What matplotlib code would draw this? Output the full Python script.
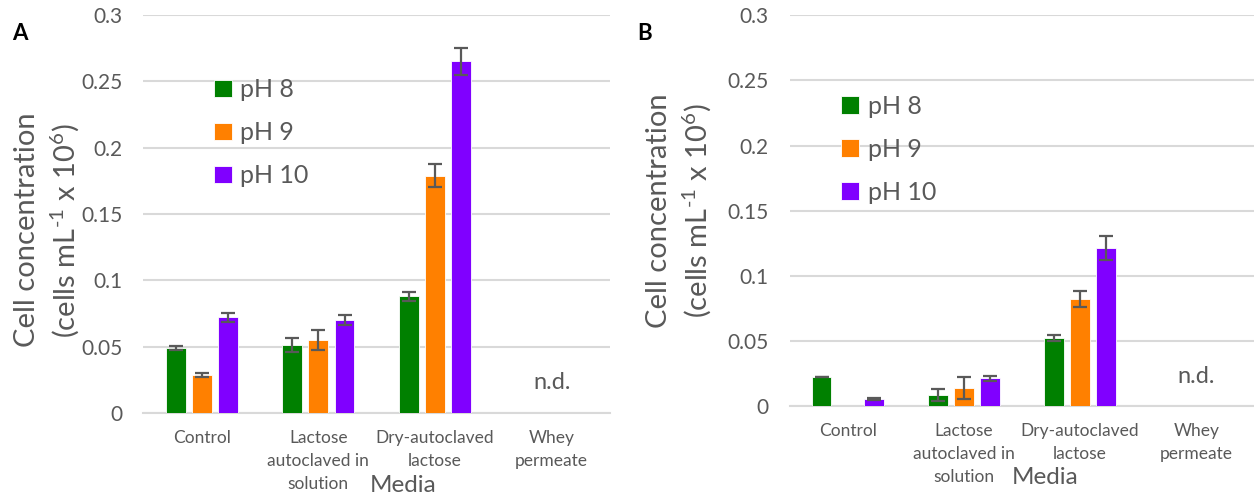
import numpy as np
import matplotlib
matplotlib.use("Agg")
import matplotlib.pyplot as plt

plt.rcParams['font.family'] = ['Lato', 'DejaVu Sans']
plt.rcParams['mathtext.fontset'] = 'custom'
plt.rcParams['mathtext.rm'] = 'Lato'
plt.rcParams['mathtext.it'] = 'Lato:italic'

media = ['Control', 'Lactose\nautoclaved in\nsolution', 'Dry-autoclaved\nlactose', 'Whey\npermeate']
series = ['pH 8', 'pH 9', 'pH 10']
colors = ['#008000', '#FF8000', '#8000FF']

# panel A
a_ph8 = [0.049, 0.051, 0.088, 0.0]
a_ph9 = [0.029, 0.055, 0.179, 0.0]
a_ph10 = [0.072, 0.070, 0.265, 0.0]
a_err8 = [0.0018, 0.0053, 0.0035, 0.0]
a_err9 = [0.0015, 0.0073, 0.0088, 0.0]
a_err10 = [0.0035, 0.0040, 0.0100, 0.0]

# panel B
b_ph8 = [0.0226, 0.0086, 0.0525, 0.0]
b_ph9 = [0.0, 0.0142, 0.0824, 0.0]
b_ph10 = [0.0058, 0.0216, 0.1215, 0.0]
b_err8 = [0.0003, 0.0045, 0.0020, 0.0]
b_err9 = [0.0, 0.0083, 0.0060, 0.0]
b_err10 = [0.0008, 0.0018, 0.0090, 0.0]

txt = '#595959'
grid = '#D9D9D9'
ylab2 = r'(cells mL$^{\text{-1}}$ x 10$^{6}$)'

fig = plt.figure(figsize=(12.54, 4.97), dpi=100)
axA = fig.add_axes([0.1144, 0.169, 0.372, 0.8008])
axB = fig.add_axes([0.6296, 0.1821, 0.3708, 0.7877])


def draw(ax, vals, errs, leg_xy):
    x = np.arange(len(media))
    w = 0.17
    step = 0.224
    handles = []
    for i, (v, e, c) in enumerate(zip(vals, errs, colors)):
        xs = x + (i - 1) * step
        b = ax.bar(xs, v, w, color=c, edgecolor='white', linewidth=0.6, zorder=3)
        handles.append(b)
        v = np.array(v)
        e = np.array(e)
        m = e > 0
        ax.errorbar(xs[m], v[m], yerr=e[m], fmt='none', ecolor='#595959',
                    elinewidth=1.6, capsize=5, capthick=1.6, zorder=4)
    ax.set_xlim(-0.5, len(media) - 0.5)
    ax.set_ylim(0, 0.3)
    ax.set_yticks([0, 0.05, 0.1, 0.15, 0.2, 0.25, 0.3])
    ax.set_yticklabels(['0', '0.05', '0.1', '0.15', '0.2', '0.25', '0.3'])
    ax.yaxis.grid(True, color=grid, linewidth=1.5, zorder=0)
    ax.set_axisbelow(True)
    for s in ['top', 'right', 'left']:
        ax.spines[s].set_visible(False)
    ax.spines['bottom'].set_color(grid)
    ax.spines['bottom'].set_linewidth(1.5)
    ax.tick_params(axis='y', length=0, pad=15, labelsize=15, labelcolor=txt)
    ax.tick_params(axis='x', length=0, pad=12, labelsize=12.5, labelcolor=txt)
    ax.set_xticks(x)
    ax.set_xticklabels(media, linespacing=1.55)
    ax.text(3, 0.023, 'n.d.', ha='center', va='center', fontsize=17, color=txt)
    ax.legend(handles, series, loc='upper left', bbox_to_anchor=leg_xy, frameon=False,
              fontsize=18, labelcolor=txt, handlelength=0.7, handleheight=0.7,
              handletextpad=0.35, labelspacing=0.8, borderaxespad=0)


draw(axA, [a_ph8, a_ph9, a_ph10], [a_err8, a_err9, a_err10], (0.13, 0.866))
draw(axB, [b_ph8, b_ph9, b_ph10], [b_err8, b_err9, b_err10], (0.09, 0.822))

# axis titles
fig.text(27 / 1254, 1 - 230 / 497, 'Cell concentration', rotation=90, ha='center', va='center',
         fontsize=21, color=txt)
fig.text(65 / 1254, 1 - 231 / 497, ylab2, rotation=90, ha='center', va='center',
         fontsize=21, color=txt)
fig.text(659 / 1254, 1 - 211 / 497, 'Cell concentration', rotation=90, ha='center', va='center',
         fontsize=21, color=txt)
fig.text(697 / 1254, 1 - 211 / 497, ylab2, rotation=90, ha='center', va='center',
         fontsize=21, color=txt)
fig.text(403 / 1254, 1 - 486 / 497, 'Media', ha='center', va='center', fontsize=17.5, color=txt)
fig.text(1045 / 1254, 1 - 478 / 497, 'Media', ha='center', va='center', fontsize=17.5, color=txt)

fig.text(20 / 1254, 1 - 33 / 497, 'A', ha='center', va='center', fontsize=16, fontweight='bold')
fig.text(645 / 1254, 1 - 33 / 497, 'B', ha='center', va='center', fontsize=16, fontweight='bold')

fig.savefig('out.png', dpi=100)
